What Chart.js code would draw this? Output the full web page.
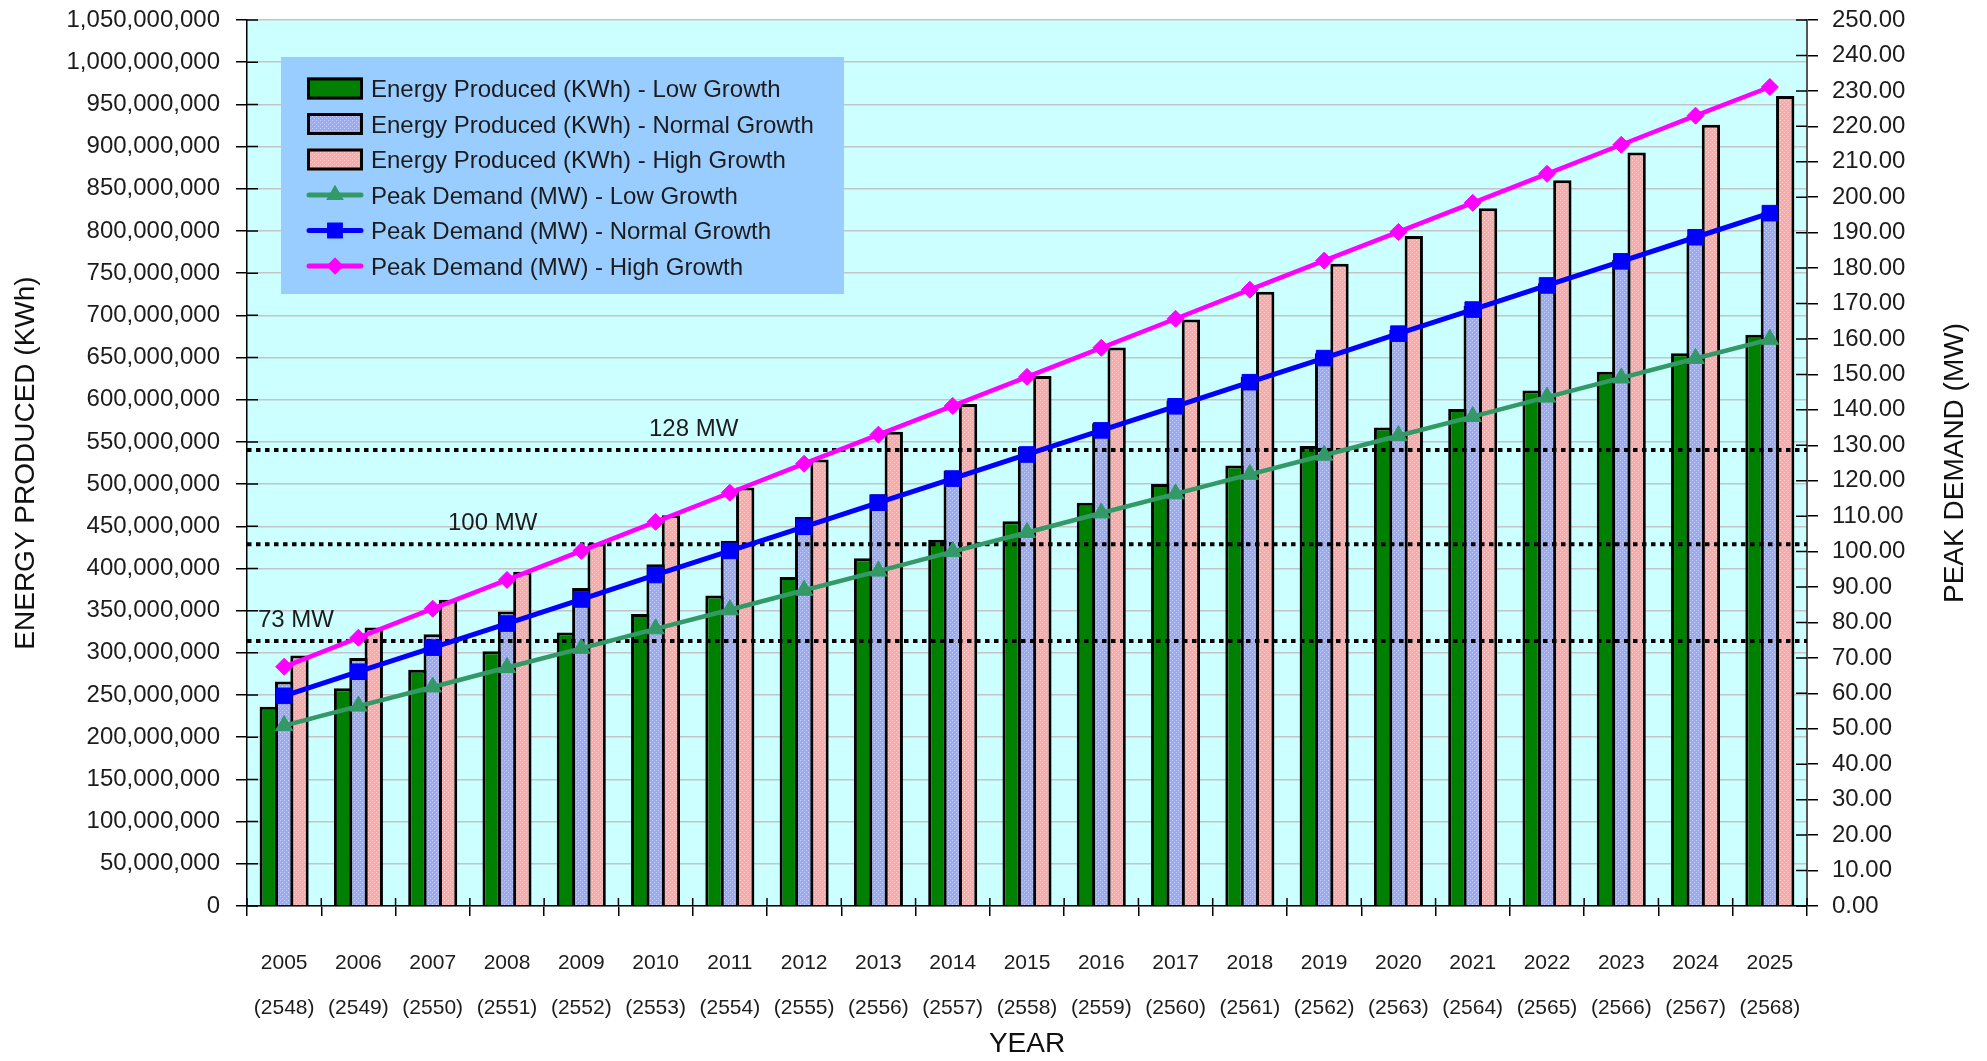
<!DOCTYPE html>
<html>
<head>
<meta charset="utf-8">
<title>Energy Produced / Peak Demand</title>
<script src="https://cdn.jsdelivr.net/npm/chart.js@4.4.1/dist/chart.umd.min.js"></script>
<style>
  html, body { margin: 0; padding: 0; background: #fff; }
  canvas { display: block; }
</style>
</head>
<body>
<canvas id="chart" width="1987" height="1061"></canvas>
<script>
// ---------------------------------------------------------------------------
// Data
// ---------------------------------------------------------------------------
const years = ['2005', '2006', '2007', '2008', '2009', '2010', '2011', '2012', '2013', '2014',
  '2015', '2016', '2017', '2018', '2019', '2020', '2021', '2022', '2023', '2024', '2025'];
const thaiYears = ['(2548)', '(2549)', '(2550)', '(2551)', '(2552)', '(2553)', '(2554)', '(2555)',
  '(2556)', '(2557)', '(2558)', '(2559)', '(2560)', '(2561)', '(2562)', '(2563)', '(2564)',
  '(2565)', '(2566)', '(2567)', '(2568)'];

// KWh
const energyLow = [236e6, 258e6, 280e6, 302e6, 324e6, 346e6, 368e6, 390e6, 412e6, 434e6,
  456e6, 478e6, 500e6, 522e6, 545e6, 567e6, 589e6, 611e6, 633e6, 655e6, 677e6];
const energyNormal = [266e6, 294e6, 322e6, 349e6, 377e6, 405e6, 433e6, 461e6, 488e6, 516e6,
  544e6, 572e6, 599e6, 627e6, 655e6, 683e6, 711e6, 738e6, 766e6, 794e6, 822e6];
const energyHigh = [297e6, 330e6, 363e6, 396e6, 430e6, 463e6, 496e6, 529e6, 562e6, 595e6,
  628e6, 662e6, 695e6, 728e6, 761e6, 794e6, 827e6, 860e6, 893e6, 926e6, 960e6];

// MW
const peakLow = [50.9, 56.4, 61.8, 67.3, 72.7, 78.2, 83.6, 89.1, 94.5, 100.0,
  105.4, 110.9, 116.3, 121.8, 127.2, 132.7, 138.1, 143.6, 149.0, 154.5, 159.9];
const peakNormal = [59.3, 66.1, 72.9, 79.7, 86.5, 93.4, 100.2, 107.0, 113.8, 120.6,
  127.4, 134.2, 141.0, 147.8, 154.6, 161.5, 168.3, 175.1, 181.9, 188.7, 195.5];
const peakHigh = [67.5, 75.7, 83.9, 92.0, 100.2, 108.4, 116.6, 124.8, 133.0, 141.1,
  149.3, 157.5, 165.7, 173.9, 182.1, 190.2, 198.4, 206.6, 214.8, 223.0, 231.1];

// dotted reference levels (MW, right axis) and their captions
const refLevels = [74.8, 102.1, 128.7];
const refLabels = ['73 MW', '100 MW', '128 MW'];

// ---------------------------------------------------------------------------
const FONT = "'Liberation Sans', Arial, sans-serif";
const TEXT = '#1c1c1c';

const canvas = document.getElementById('chart');
const ctx0 = canvas.getContext('2d');

function dotted(base, dot) {
  const c = document.createElement('canvas');
  c.width = 4; c.height = 4;
  const g = c.getContext('2d');
  g.fillStyle = base;
  g.fillRect(0, 0, 4, 4);
  g.fillStyle = dot;
  g.fillRect(0, 0, 1, 1);
  g.fillRect(2, 2, 1, 1);
  return ctx0.createPattern(c, 'repeat');
}

const blueFill = dotted('#9aaaf6', '#c8d2fc');
const pinkFill = dotted('#ffa8a8', '#ffd0d0');

// plot background
const plotBg = {
  id: 'plotBg',
  beforeDraw(chart) {
    const { ctx, chartArea: a } = chart;
    ctx.save();
    ctx.fillStyle = '#ccffff';
    ctx.fillRect(a.left, a.top, a.right - a.left, a.bottom - a.top);
    ctx.restore();
  },
};

// dotted MW levels, drawn above the bars but under the lines
const refLines = {
  id: 'refLines',
  afterDatasetDraw(chart, args, opts) {
    if (args.index !== 0) return;
    const { ctx, chartArea: a } = chart;
    const y2 = chart.scales.y2;
    ctx.save();
    ctx.strokeStyle = '#000';
    ctx.lineWidth = 4;
    ctx.setLineDash([4.5, 4.5]);
    ctx.font = `24px ${FONT}`;
    ctx.fillStyle = TEXT;
    ctx.textBaseline = 'middle';
    refLevels.forEach((v, i) => {
      const y = y2.getPixelForValue(v);
      ctx.beginPath();
      ctx.moveTo(a.left, y);
      ctx.lineTo(a.right, y);
      ctx.stroke();
      ctx.fillText(refLabels[i], a.left + opts.labelX[i], y - 21);
    });
    ctx.restore();
  },
};

// tick marks that cross the axes, and the right axis title (reads bottom-up)
const crossTicks = {
  id: 'crossTicks',
  afterDraw(chart, args, opts) {
    const { ctx, chartArea: a, scales } = chart;
    ctx.save();
    ctx.strokeStyle = '#000';
    ctx.lineWidth = 1.5;
    ctx.beginPath();
    scales.y.ticks.forEach((t, i) => {
      const y = scales.y.getPixelForTick(i);
      ctx.moveTo(a.left, y); ctx.lineTo(a.left + 11, y);
    });
    scales.y2.ticks.forEach((t, i) => {
      const y = scales.y2.getPixelForTick(i);
      ctx.moveTo(a.right - 11, y); ctx.lineTo(a.right, y);
    });
    for (let i = 0; i <= years.length; i++) {
      const x = scales.x.getPixelForValue(i - 0.5);
      ctx.moveTo(x, a.bottom - 8); ctx.lineTo(x, a.bottom);
    }
    ctx.stroke();

    ctx.translate(opts.rightTitleX, (a.top + a.bottom) / 2);
    ctx.rotate(-Math.PI / 2);
    ctx.font = `28px ${FONT}`;
    ctx.fillStyle = '#111';
    ctx.textAlign = 'center';
    ctx.textBaseline = 'middle';
    ctx.fillText(opts.rightTitle, 0, 0);
    ctx.restore();
  },
};

// legend box inside the plot area
const boxLegend = {
  id: 'boxLegend',
  afterDraw(chart, args, opts) {
    const { ctx } = chart;
    const [x0, y0, x1, y1] = opts.box;
    ctx.save();
    ctx.fillStyle = '#99ccff';
    ctx.fillRect(x0, y0, x1 - x0, y1 - y0);
    ctx.font = `24px ${FONT}`;
    ctx.textBaseline = 'middle';
    chart.data.datasets.forEach((ds, i) => {
      const cy = opts.firstRow + i * opts.rowGap;
      const sx = opts.swatchX;
      const sw = opts.swatchW;
      if (ds.type === 'bar') {
        ctx.fillStyle = ds.backgroundColor;
        ctx.fillRect(sx, cy - 11, sw, 22);
        ctx.strokeStyle = '#000';
        ctx.lineWidth = 3;
        ctx.strokeRect(sx + 1.5, cy - 11 + 1.5, sw - 3, 19);
      } else {
        ctx.strokeStyle = ds.borderColor;
        ctx.lineWidth = 5;
        ctx.lineCap = 'round';
        ctx.beginPath();
        ctx.moveTo(sx + 2, cy);
        ctx.lineTo(sx + sw - 2, cy);
        ctx.stroke();
        ctx.fillStyle = ds.pointBackgroundColor;
        Chart.helpers.drawPoint(ctx, {
          pointStyle: ds.pointStyle, radius: ds.pointRadius, rotation: 0, borderWidth: 0,
        }, sx + sw / 2, cy);
        ctx.fill();
      }
      ctx.fillStyle = TEXT;
      ctx.fillText(ds.label, opts.textX, cy + 2);
    });
    ctx.restore();
  },
};

const lineDs = (label, data, color, style, radius, width) => ({
  type: 'line',
  label,
  data,
  yAxisID: 'y2',
  order: 0,
  borderColor: color,
  backgroundColor: color,
  borderWidth: width,
  pointStyle: style,
  pointRadius: radius,
  pointBackgroundColor: color,
  pointBorderColor: color,
  pointBorderWidth: 1,
  tension: 0,
  fill: false,
});

const barDs = (label, data, fill) => ({
  type: 'bar',
  label,
  data,
  yAxisID: 'y',
  order: 1,
  backgroundColor: fill,
  borderColor: '#000',
  borderWidth: 3,
  borderSkipped: 'start',
  categoryPercentage: 0.62,
  barPercentage: 1.195,
});

// vertical scales: fixed width, no extra label padding so the plot top sits at 20px
const fixWidth = w => s => { s.width = w; s.paddingTop = 0; s.paddingBottom = 0; };

new Chart(canvas, {
  data: {
    labels: years.map((y, i) => [y, thaiYears[i]]),
    datasets: [
      barDs('Energy Produced (KWh) - Low Growth', energyLow, '#008000'),
      barDs('Energy Produced (KWh) - Normal Growth', energyNormal, blueFill),
      barDs('Energy Produced (KWh) - High Growth', energyHigh, pinkFill),
      lineDs('Peak Demand (MW) - Low Growth', peakLow, '#339966', 'triangle', 10, 4.5),
      lineDs('Peak Demand (MW) - Normal Growth', peakNormal, '#0000ff', 'rect', 11, 5),
      lineDs('Peak Demand (MW) - High Growth', peakHigh, '#ff00ff', 'rectRot', 8.5, 4.5),
    ],
  },
  options: {
    responsive: false,
    devicePixelRatio: 1,
    animation: false,
    layout: { padding: { top: 20, left: 0, right: 0, bottom: 0 } },
    plugins: {
      legend: { display: false },
      tooltip: { enabled: false },
      refLines: { labelX: [11, 201, 402] },
      crossTicks: { rightTitle: 'PEAK DEMAND (MW)', rightTitleX: 1955 },
      boxLegend: {
        box: [281, 57, 844, 294],
        swatchX: 307, swatchW: 56, textX: 371,
        firstRow: 88.5, rowGap: 35.5,
      },
    },
    scales: {
      x: {
        afterFit(s) { s.height = 155; },
        grid: {
          display: true, offset: true, drawOnChartArea: false,
          color: '#000', lineWidth: 1.5, tickLength: 10,
        },
        border: { display: true, color: '#000', width: 1.5 },
        ticks: {
          autoSkip: false, maxRotation: 0, minRotation: 0, padding: 25,
          color: TEXT, font: { family: FONT, size: 21, lineHeight: '45px' },
        },
        title: {
          display: true, text: 'YEAR', color: '#111',
          font: { family: FONT, size: 28 }, padding: { top: 0, bottom: 0 },
        },
      },
      y: {
        position: 'left',
        min: 0, max: 1050000000,
        afterFit: fixWidth(247),
        grid: { color: '#c4c4c4', lineWidth: 1.5, tickColor: '#000', tickLength: 11 },
        border: { display: true, color: '#000', width: 1.5 },
        ticks: {
          stepSize: 50000000, padding: 16, color: TEXT,
          font: { family: FONT, size: 24 },
          callback: v => Number(v).toLocaleString('en-US'),
        },
        title: {
          display: true, text: 'ENERGY PRODUCED (KWh)', color: '#111',
          font: { family: FONT, size: 28 }, padding: { top: 9, bottom: 0 },
        },
      },
      y2: {
        position: 'right',
        min: 0, max: 250,
        afterFit: fixWidth(180),
        grid: { drawOnChartArea: false, color: '#000', lineWidth: 1.5, tickLength: 11 },
        border: { display: true, color: '#555', width: 2 },
        ticks: {
          stepSize: 10, padding: 14, color: TEXT,
          font: { family: FONT, size: 24 },
          callback: v => Number(v).toFixed(2),
        },
      },
    },
  },
  plugins: [plotBg, refLines, crossTicks, boxLegend],
});
</script>
</body>
</html>
